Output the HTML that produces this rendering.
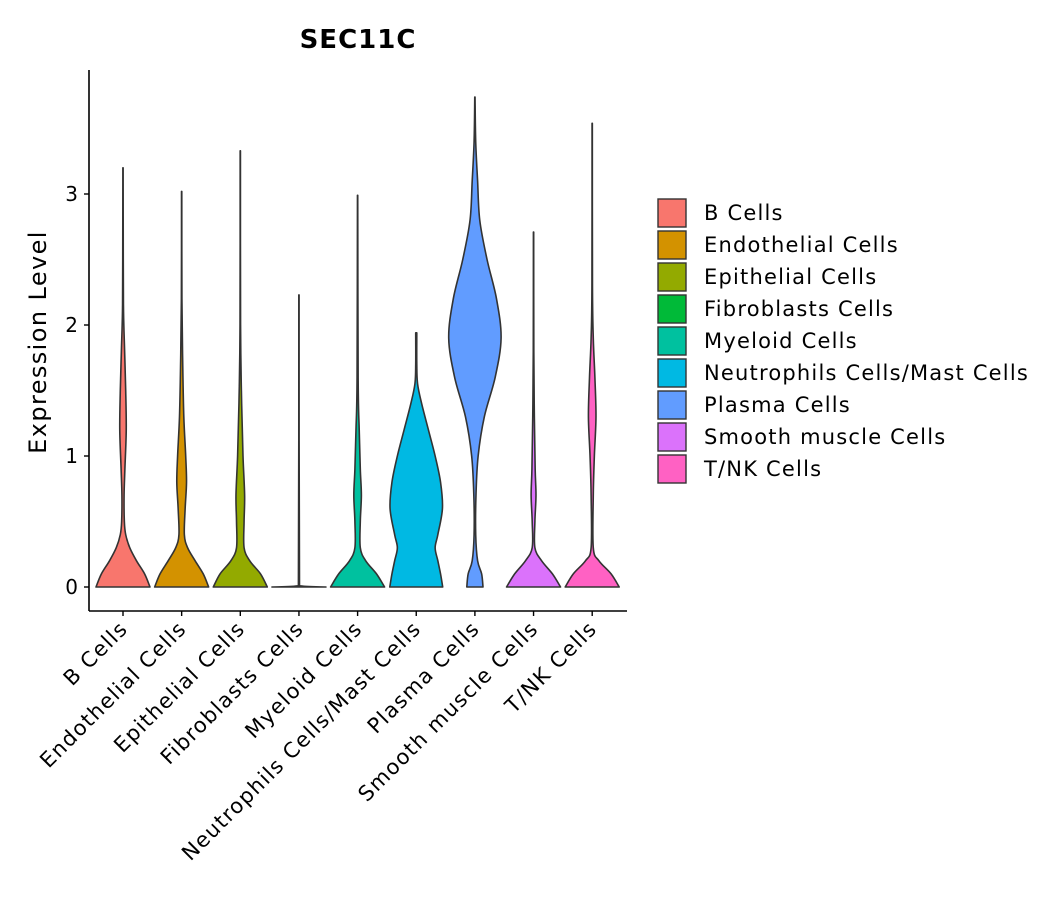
<!DOCTYPE html>
<html><head><meta charset="utf-8"><style>
body{margin:0;background:#fff;}
svg{font-family:"DejaVu Sans","Liberation Sans",sans-serif;}
</style></head><body>
<svg id="c" width="1057" height="900" xmlns="http://www.w3.org/2000/svg"></svg>
<script>
const categories=["B Cells","Endothelial Cells","Epithelial Cells","Fibroblasts Cells","Myeloid Cells","Neutrophils Cells/Mast Cells","Plasma Cells","Smooth muscle Cells","T/NK Cells"];
const colors=["#F8766D","#D39200","#93AA00","#00BA38","#00C19F","#00B9E3","#619CFF","#DB72FB","#FF61C3"];
const yTicks=[0,1,2,3];
const levels=[
[0,0.1,0.2,0.3,0.4,0.5,0.7,0.9,1.2,1.5,1.8,2.1,2.5,3.2],
[0,0.1,0.2,0.3,0.4,0.6,0.8,1.0,1.3,1.7,2.2,3.02],
[0,0.1,0.2,0.3,0.5,0.7,1.0,1.4,2.0,3.33],
[0,0.01,2.23],
[0,0.1,0.2,0.3,0.5,0.7,0.9,1.2,1.6,2.99],
[0,0.1,0.2,0.3,0.4,0.6,0.8,1.0,1.2,1.4,1.55,1.7,1.94],
[0,0.1,0.2,0.4,0.7,1.0,1.3,1.6,1.9,2.2,2.5,2.8,3.1,3.4,3.74],
[0,0.1,0.2,0.3,0.5,0.7,0.9,1.3,1.8,2.71],
[0,0.1,0.2,0.3,0.7,1.0,1.3,1.6,1.9,2.3,3.54]];
const densities=[
[1,0.8,0.5,0.25,0.1,0.05,0.04,0.07,0.12,0.1,0.06,0.02,0.01,0.005],
[1,0.8,0.5,0.22,0.1,0.13,0.18,0.15,0.08,0.04,0.01,0.005],
[1,0.75,0.35,0.14,0.14,0.16,0.1,0.05,0.01,0.005],
[1,0.02,0.005],
[1,0.7,0.3,0.1,0.1,0.14,0.1,0.06,0.02,0.005],
[0.98,0.9,0.8,0.7,0.8,0.97,0.9,0.7,0.45,0.2,0.05,0.02,0.02],
[0.3,0.25,0.1,0.03,0.04,0.12,0.35,0.75,0.97,0.8,0.45,0.18,0.1,0.03,0.005],
[1,0.7,0.3,0.05,0.05,0.09,0.06,0.03,0.01,0.005],
[1,0.7,0.25,0.04,0.04,0.08,0.14,0.1,0.04,0.01,0.005]];
const NS="http://www.w3.org/2000/svg";
const svg=document.getElementById('c');
const X0=89,X1=627,Y0=611;
const yScale=v=>587-v*131;
const xScale=i=>123+i*58.65;
const HW=27;
function el(t,a,p){const e=document.createElementNS(NS,t);for(const k in a)e.setAttribute(k,a[k]);(p||svg).appendChild(e);return e;}
function cl(v,a,b){const lo=Math.min(a,b),hi=Math.max(a,b);return Math.max(lo,Math.min(hi,v));}
function smooth(pts,cx,sgn){let d="M"+pts[0][0]+","+pts[0][1];
for(let i=0;i<pts.length-1;i++){const p0=pts[Math.max(0,i-1)],p1=pts[i],p2=pts[i+1],p3=pts[Math.min(pts.length-1,i+2)];
let c1x=p1[0]+(p2[0]-p0[0])/6,c1y=cl(p1[1]+(p2[1]-p0[1])/6,p1[1],p2[1]);
let c2x=p2[0]-(p3[0]-p1[0])/6,c2y=cl(p2[1]-(p3[1]-p1[1])/6,p1[1],p2[1]);
if(sgn>0){c1x=Math.max(cx,c1x);c2x=Math.max(cx,c2x);}else{c1x=Math.min(cx,c1x);c2x=Math.min(cx,c2x);}
d+=" C"+c1x+","+c1y+" "+c2x+","+c2y+" "+p2[0]+","+p2[1];}
return d;}
categories.forEach((c,i)=>{
  const cx=xScale(i);
  const right=levels[i].map((v,j)=>[cx+densities[i][j]*HW,yScale(v)]);
  const left=levels[i].map((v,j)=>[cx-densities[i][j]*HW,yScale(v)]).reverse();
  let d=smooth(right,cx,1);
  const dl=smooth(left,cx,-1);
  d+=" L"+dl.slice(1)+" Z";
  const p=el('path',{d:d,fill:colors[i],stroke:'#333','stroke-width':1.6,'stroke-linejoin':'round'});
  
  
});
const ax=el('line',{x1:X0,y1:70,x2:X0,y2:Y0,stroke:'#000','stroke-width':1.6});

const bx=el('line',{x1:X0,y1:Y0,x2:X1,y2:Y0,stroke:'#000','stroke-width':1.6});

yTicks.forEach(v=>{
  el('line',{x1:X0-5,y1:yScale(v),x2:X0,y2:yScale(v),stroke:'#000','stroke-width':1.4});
  const t=el('text',{x:X0-11,y:yScale(v)+7,'text-anchor':'end','font-size':20,fill:'#000'});t.textContent=v;
  
});
categories.forEach((c,i)=>{
  const x=xScale(i);
  el('line',{x1:x,y1:Y0,x2:x,y2:Y0+5,stroke:'#000','stroke-width':1.4});
  const t=el('text',{x:0,y:0,'text-anchor':'end','font-size':21,'letter-spacing':1.3,fill:'#000',transform:`translate(${x+6},${Y0+19}) rotate(-45)`});t.textContent=c;
  
});
const tt=el('text',{x:358,y:48,'text-anchor':'middle','font-size':26,'letter-spacing':1,'font-weight':'bold'});tt.textContent="SEC11C";

const yt=el('text',{x:0,y:0,'text-anchor':'middle','font-size':24,'letter-spacing':1.4,transform:'translate(46,342) rotate(-90)'});yt.textContent="Expression Level";

categories.forEach((c,i)=>{
  const y=199+i*32;
  const r=el('rect',{x:658,y:y,width:28,height:28,fill:colors[i],stroke:'#333','stroke-width':1.4});
  
  const t=el('text',{x:704,y:y+21,'font-size':21,'letter-spacing':1.2});t.textContent=c;
  
});
</script>
</body></html>
